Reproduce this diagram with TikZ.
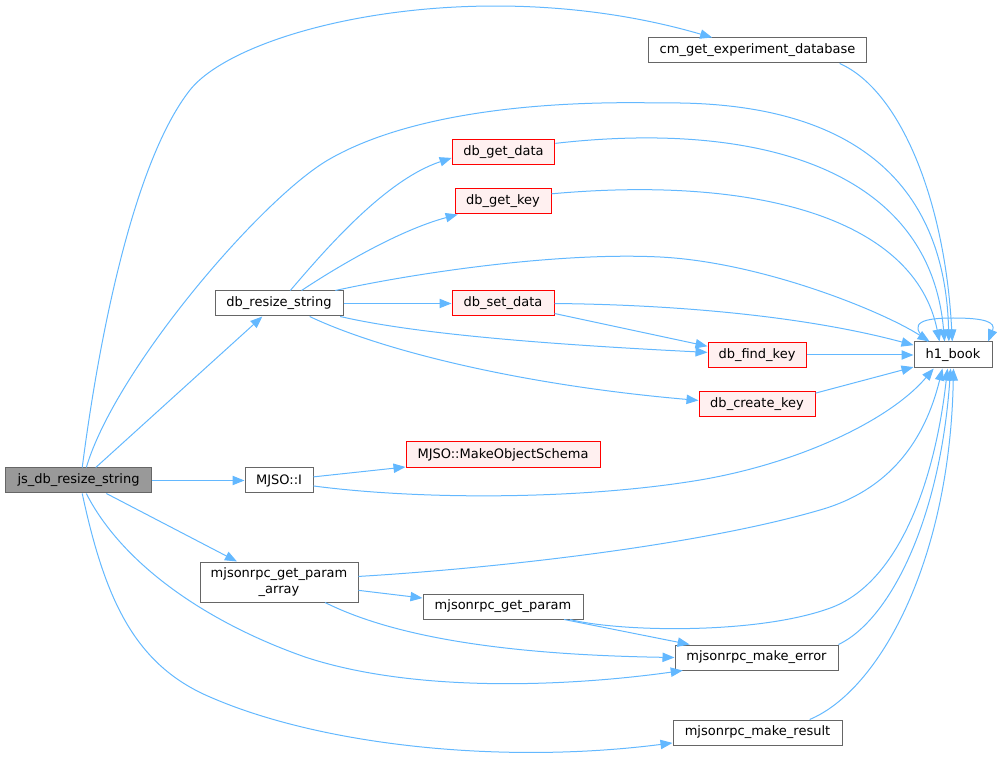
\documentclass[tikz,border=0pt]{standalone}
\usepackage{fontspec}
\setmainfont{DejaVu Sans}
\usepackage{tikz}
\usetikzlibrary{arrows.meta}
\definecolor{edgeblue}{HTML}{63B8FF}
\definecolor{boxgrey}{HTML}{666666}
\definecolor{curfill}{HTML}{999999}
\definecolor{hlfill}{HTML}{FFF0F0}
\definecolor{hlred}{HTML}{FF0000}

\begin{document}
\begin{tikzpicture}[x=0.75pt,y=-0.75pt,
  fn/.style={draw=boxgrey,fill=white,line width=0.75pt,minimum height=18.75pt,inner xsep=2pt,inner ysep=0pt,font=\fontsize{9.75}{11.5}\selectfont},
  fnred/.style={fn,draw=hlred,fill=hlfill},
  fncur/.style={fn,fill=curfill},
  call/.style={draw=edgeblue,line width=0.75pt,-{Triangle[length=9pt,width=7pt]}}]
\useasboundingbox (0,0) rectangle (997,759);
\node[fncur,minimum width=110pt] (js) at (78.5,480.5) {js\_db\_resize\_string};
\node[fn,minimum width=164pt] (cmdb) at (757.5,50.5) {cm\_get\_experiment\_database};
\node[fnred,minimum width=77pt] (getdata) at (503.5,152.5) {db\_get\_data};
\node[fnred,minimum width=72pt] (getkey) at (503,201.5) {db\_get\_key};
\node[fn,minimum width=96pt] (resize) at (279,303.5) {db\_resize\_string};
\node[fnred,minimum width=76.5pt] (setdata) at (503,303.5) {db\_set\_data};
\node[fnred,minimum width=73.5pt] (findkey) at (757,355) {db\_find\_key};
\node[fn,minimum width=58.5pt,minimum height=19.5pt] (hbook) at (953,355) {h1\_book};
\node[fnred,minimum width=87pt] (createkey) at (757,404.5) {db\_create\_key};
\node[fn,minimum width=51pt] (mjsoi) at (279,480.5) {MJSO::I};
\node[fnred,minimum width=145.5pt,minimum height=19.5pt] (makeschema) at (503,455) {MJSO::MakeObjectSchema};
\node[fn,minimum width=118.5pt,minimum height=30pt,align=center] (paramarray) at (279,582) {mjsonrpc\_get\_param\\\_array};
\node[fn,minimum width=120pt] (getparam) at (503,606.5) {mjsonrpc\_get\_param};
\node[fn,minimum width=122.25pt] (makeerror) at (756.5,657.5) {mjsonrpc\_make\_error};
\node[fn,minimum width=126.75pt] (makeresult) at (757.5,732.5) {mjsonrpc\_make\_result};

\draw[call] (js.74) .. controls (100,330) and (135,160) .. (190,90) .. controls (240,27) and (480,-30) .. (cmdb.164);
\draw[call] (js.59) .. controls (115,370) and (260,200) .. (328,160) .. controls (400,118) and (520,100) .. (660,103) .. controls (850,100) and (945,180) .. (hbook.107);
\draw[call] (js.37) -- (resize.-142);
\draw[call] (js.east) -- (mjsoi.west);
\draw[call] (js.-25) -- (paramarray.154);
\draw[call] (js.-59) .. controls (120,560) and (200,620) .. (305,657) .. controls (420,695) and (580,685) .. (makeerror.-170);
\draw[call] (js.-74) .. controls (105,600) and (135,665) .. (210,697) .. controls (320,745) and (500,765) .. (makeresult.-173);
\draw[call] (cmdb.-9) .. controls (900,90) and (945,200) .. (hbook.93);
\draw[call] (resize.49) .. controls (325,250) and (385,180) .. (getdata.-174);
\draw[call] (resize.30) .. controls (340,265) and (400,230) .. (getkey.-164);
\draw[call] (resize.13) .. controls (420,272) and (560,252) .. (660,257) .. controls (760,262) and (880,310) .. (hbook.150);
\draw[call] (resize.east) -- (setdata.west);
\draw[call] (resize.-12) .. controls (420,335) and (560,345) .. (findkey.177);
\draw[call] (resize.-23) .. controls (380,350) and (520,385) .. (createkey.176);
\draw[call] (getdata.10) .. controls (760,120) and (930,170) .. (hbook.122);
\draw[call] (getkey.9) .. controls (760,175) and (915,220) .. (hbook.135);
\draw[call] (setdata.east) .. controls (700,305) and (820,320) .. (hbook.166);
\draw[call] (setdata.-11) -- (findkey.170);
\draw[call] (findkey.east) -- (hbook.west);
\draw[call] (createkey.11) -- (hbook.-163);
\draw[call] (hbook.152) .. controls (905,322) and (925,318) .. (953,318) .. controls (985,318) and (996,322) .. (hbook.21);
\draw[call] (mjsoi.6) -- (makeschema.-173);
\draw[call] (mjsoi.-9) .. controls (420,500) and (580,500) .. (700,480) .. controls (800,463) and (890,420) .. (hbook.-145);
\draw[call] (paramarray.4) .. controls (500,568) and (700,545) .. (820,510) .. controls (890,490) and (925,440) .. (hbook.-128);
\draw[call] (paramarray.-6) -- (getparam.174);
\draw[call] (paramarray.-24) .. controls (400,640) and (520,655) .. (makeerror.180);
\draw[call] (getparam.-11) .. controls (620,632) and (760,635) .. (833,607) .. controls (900,580) and (935,480) .. (hbook.-112);
\draw[call] (getparam.-12) -- (makeerror.169);
\draw[call] (makeerror.9) .. controls (890,620) and (940,520) .. (hbook.-100);
\draw[call] (makeresult.14) .. controls (880,690) and (950,560) .. (hbook.-88);
\end{tikzpicture}
\end{document}
